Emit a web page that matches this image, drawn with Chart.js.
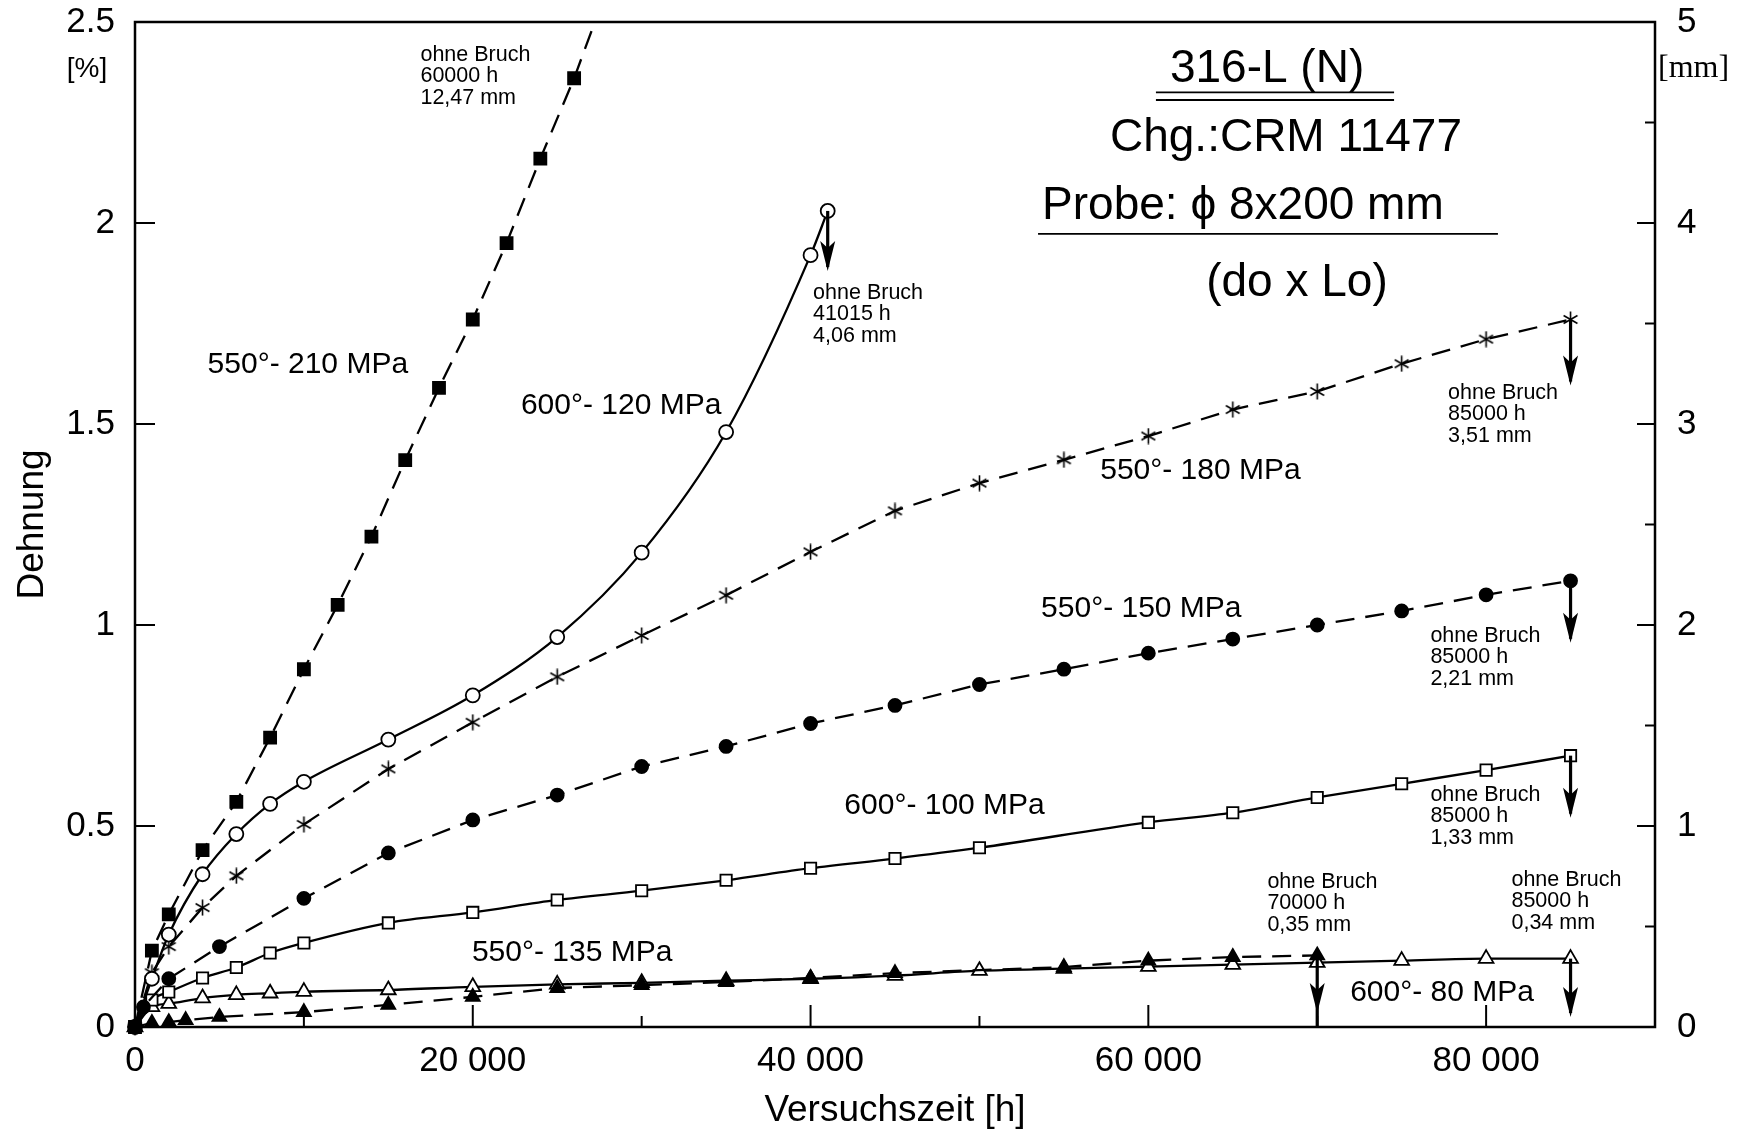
<!DOCTYPE html>
<html>
<head>
<meta charset="utf-8">
<script src="https://cdn.jsdelivr.net/npm/chart.js@4.4.1/dist/chart.umd.min.js"></script>
<style>
html,body{margin:0;padding:0;background:#fff;}
canvas{display:block;}
</style>
</head>
<body>
<canvas id="c" width="1746" height="1136"></canvas>
<script>
// ---------------- DATA ----------------
// Versuchszeit [h] / Dehnung [%]
const time210   = [0, 1000, 2000, 4000, 6000, 8000, 10000, 12000, 14000, 16000, 18000, 20000, 22000, 24000, 26000, 60000];
const strain210 = [0, 0.19, 0.28, 0.44, 0.56, 0.72, 0.89, 1.05, 1.22, 1.41, 1.59, 1.76, 1.95, 2.16, 2.36, 6.235];

const time120   = [0, 1000, 2000, 4000, 6000, 8000, 10000, 15000, 20000, 25000, 30000, 35000, 40000, 41015];
const strain120 = [0, 0.12, 0.23, 0.38, 0.48, 0.555, 0.61, 0.715, 0.825, 0.97, 1.18, 1.48, 1.92, 2.03];

const time180   = [0, 1000, 2000, 4000, 6000, 10000, 15000, 20000, 25000, 30000, 35000, 40000, 45000, 50000, 55000, 60000, 65000, 70000, 75000, 80000, 85000];
const strain180 = [0, 0.135, 0.2, 0.297, 0.376, 0.504, 0.642, 0.758, 0.871, 0.974, 1.074, 1.182, 1.284, 1.353, 1.411, 1.47, 1.536, 1.581, 1.65, 1.711, 1.76];

const time150   = [0, 500, 2000, 5000, 10000, 15000, 20000, 25000, 30000, 35000, 40000, 45000, 50000, 55000, 60000, 65000, 70000, 75000, 80000, 85000];
const strain150 = [0, 0.05, 0.12, 0.2, 0.32, 0.433, 0.515, 0.577, 0.648, 0.698, 0.755, 0.8, 0.852, 0.89, 0.93, 0.965, 1.0, 1.035, 1.075, 1.11];

const time100   = [0, 1000, 2000, 4000, 6000, 8000, 10000, 15000, 20000, 25000, 30000, 35000, 40000, 45000, 50000, 60000, 65000, 70000, 75000, 80000, 85000];
const strain100 = [0, 0.067, 0.087, 0.122, 0.148, 0.184, 0.209, 0.259, 0.285, 0.316, 0.339, 0.365, 0.395, 0.419, 0.446, 0.509, 0.533, 0.571, 0.605, 0.639, 0.675];

const time135   = [0, 1000, 2000, 3000, 5000, 10000, 15000, 20000, 25000, 30000, 35000, 40000, 45000, 55000, 60000, 65000, 70000];
const strain135 = [0, 0.01, 0.012, 0.017, 0.025, 0.037, 0.055, 0.075, 0.097, 0.104, 0.112, 0.122, 0.134, 0.149, 0.165, 0.174, 0.178];

const time80    = [0, 1000, 2000, 4000, 6000, 8000, 10000, 15000, 20000, 25000, 30000, 35000, 40000, 45000, 50000, 55000, 60000, 65000, 70000, 75000, 80000, 85000];
const strain80  = [0, 0.05, 0.058, 0.072, 0.08, 0.084, 0.088, 0.092, 0.1, 0.106, 0.11, 0.115, 0.12, 0.128, 0.14, 0.145, 0.15, 0.155, 0.16, 0.165, 0.17, 0.17];

const seriesNames = ['550°- 210 MPa', '600°- 120 MPa', '550°- 180 MPa', '550°- 150 MPa', '600°- 100 MPa', '550°- 135 MPa', '600°- 80 MPa'];

// end-of-test notes ("ohne Bruch")
const endHours = ['60000 h', '41015 h', '85000 h', '85000 h', '85000 h', '70000 h', '85000 h'];
const endMm    = ['12,47 mm', '4,06 mm', '3,51 mm', '2,21 mm', '1,33 mm', '0,35 mm', '0,34 mm'];

// axis ticks
const xTickValues = [0, 20000, 40000, 60000, 80000];
const xTickLabels = ['0', '20 000', '40 000', '60 000', '80 000'];
const yTickValues = [0, 0.5, 1, 1.5, 2, 2.5];
const yTickLabels = ['0', '0.5', '1', '1.5', '2', '2.5'];
const y2TickValues = [0, 1, 2, 3, 4, 5];
const y2TickLabels = ['0', '1', '2', '3', '4', '5'];

const titleLines = ['316-L (N)', 'Chg.:CRM 11477', 'Probe: ϕ 8x200 mm', '(do x Lo)'];

// ---------------- RENDERING ----------------
const FONT = "'Liberation Sans', Arial, Helvetica, sans-serif";
Chart.defaults.font.family = FONT;
Chart.defaults.color = '#000';

function pts(t, s) { return t.map((v, i) => ({x: v, y: s[i]})); }

function makeAsterisk(size, lw) {
  const c = document.createElement('canvas');
  c.width = size; c.height = size;
  const g = c.getContext('2d');
  g.strokeStyle = '#000'; g.lineWidth = lw; g.lineCap = 'butt';
  const r = size / 2 - 0.5, cx = size / 2, cy = size / 2;
  for (let k = 0; k < 3; k++) {
    const a = Math.PI / 2 + k * Math.PI / 3;
    g.beginPath();
    g.moveTo(cx + r * Math.cos(a), cy + r * Math.sin(a));
    g.lineTo(cx - r * Math.cos(a), cy - r * Math.sin(a));
    g.stroke();
  }
  return c;
}
const asterisk = makeAsterisk(17, 1.6);

const DASH = [19, 11];
function ds(label, t, s, opt) {
  return Object.assign({
    label, data: pts(t, s), showLine: true,
    borderColor: '#000', borderWidth: 2.3,
    pointBorderColor: '#000', pointBorderWidth: 1.8,
    tension: 0, clip: 12
  }, opt);
}

const datasets = [
  ds(seriesNames[0], time210, strain210, {borderDash: DASH, pointStyle: 'rect', pointRadius: 8.5, pointBackgroundColor: '#000',
     clip: {left: 12, right: 12, bottom: 12, top: 0}}),
  ds(seriesNames[1], time120, strain120, {pointStyle: 'circle', pointRadius: 7, pointBackgroundColor: '#fff', cubicInterpolationMode: 'monotone'}),
  ds(seriesNames[2], time180, strain180, {borderDash: DASH, pointStyle: asterisk, pointRadius: 7}),
  ds(seriesNames[3], time150, strain150, {borderDash: DASH, pointStyle: 'circle', pointRadius: 6.5, pointBackgroundColor: '#000'}),
  ds(seriesNames[4], time100, strain100, {pointStyle: 'rect', pointRadius: 8, pointBackgroundColor: '#fff', cubicInterpolationMode: 'monotone'}),
  ds(seriesNames[5], time135, strain135, {borderDash: DASH, pointStyle: 'triangle', pointRadius: 8, pointBackgroundColor: '#000'}),
  ds(seriesNames[6], time80, strain80, {pointStyle: 'triangle', pointRadius: 8.5, pointBackgroundColor: '#fff', cubicInterpolationMode: 'monotone'})
];

function lookup(vals, labels) {
  return v => { const i = vals.findIndex(w => Math.abs(w - v) < 1e-9); return i >= 0 ? labels[i] : ''; };
}

const annotPlugin = {
  id: 'annot',
  afterDatasetsDraw(chart, args, o) {
    const {ctx, chartArea: a, scales} = chart;
    const xs = scales.x, ys = scales.y, y2 = scales.y2;
    ctx.save();
    ctx.strokeStyle = '#000'; ctx.fillStyle = '#000';

    // end arrows (from last data point downwards)
    o.arrows.forEach(ar => {
      const d = chart.data.datasets[ar.series].data;
      const p = d[d.length - 1];
      const px = xs.getPixelForValue(p.x);
      const py = ys.getPixelForValue(p.y);
      const tip = ar.tipAbove != null ? a.bottom - ar.tipAbove : py + ar.len;
      const shaftEnd = ar.toAxis ? a.bottom : tip - 4;
      ctx.lineWidth = 3.2;
      ctx.beginPath(); ctx.moveTo(px, py); ctx.lineTo(px, shaftEnd); ctx.stroke();
      ctx.beginPath();
      ctx.moveTo(px, tip);
      ctx.lineTo(px - 7.5, tip - 30);
      ctx.lineTo(px, tip - 23);
      ctx.lineTo(px + 7.5, tip - 30);
      ctx.closePath(); ctx.fill();
    });

    // frame
    ctx.lineWidth = 2.5;
    ctx.strokeRect(a.left, a.top, a.right - a.left, a.bottom - a.top);

    // inward ticks
    ctx.lineWidth = 2;
    ys.ticks.forEach(t => {
      if (t.value <= 0 || t.value >= ys.max) return;
      const yy = ys.getPixelForValue(t.value);
      ctx.beginPath(); ctx.moveTo(a.left, yy); ctx.lineTo(a.left + 20, yy); ctx.stroke();
    });
    for (let mm = 0.5; mm < y2.max; mm += 0.5) {
      const yy = y2.getPixelForValue(mm);
      const len = Math.abs(mm - Math.round(mm)) < 1e-9 ? 18 : 10;
      ctx.beginPath(); ctx.moveTo(a.right - len, yy); ctx.lineTo(a.right, yy); ctx.stroke();
    }
    xs.ticks.forEach(t => {
      if (t.value <= 0 || t.value >= xs.max) return;
      const xx = xs.getPixelForValue(t.value);
      const len = t.value % 20000 === 0 ? 22 : 11;
      ctx.beginPath(); ctx.moveTo(xx, a.bottom); ctx.lineTo(xx, a.bottom - len); ctx.stroke();
    });
    ctx.restore();
  },
  afterDraw(chart, args, o) {
    const {ctx, chartArea: a, scales} = chart;
    const xs = scales.x, ys = scales.y;
    const X = v => xs.getPixelForValue(v), Y = v => ys.getPixelForValue(v);
    ctx.save();
    ctx.fillStyle = '#000'; ctx.strokeStyle = '#000';
    ctx.textBaseline = 'middle';

    // series labels
    ctx.font = '30px ' + FONT; ctx.textAlign = 'left';
    o.seriesLabels.forEach((l, i) => ctx.fillText(seriesNames[i], X(l[0]), Y(l[1])));

    // "ohne Bruch" notes
    ctx.font = '21.5px ' + FONT;
    o.notes.forEach((n, i) => {
      const x0 = X(n[0]), y0 = Y(n[1]);
      ctx.fillText('ohne Bruch', x0, y0);
      ctx.fillText(endHours[i], x0, y0 + 21.5);
      ctx.fillText(endMm[i], x0, y0 + 43);
    });

    // title block
    ctx.font = '46px ' + FONT; ctx.textAlign = 'center';
    o.title.forEach((t, i) => ctx.fillText(titleLines[i], X(t[0]), Y(t[1])));
    ctx.lineWidth = 1.8;
    o.rules.forEach(r => {
      ctx.beginPath(); ctx.moveTo(X(r[0]), Y(r[2])); ctx.lineTo(X(r[1]), Y(r[2])); ctx.stroke();
    });

    // unit labels
    ctx.font = '28px ' + FONT;
    ctx.textAlign = 'center';
    ctx.fillText('[%]', a.left - 48, a.top + 47);
    ctx.font = "32px 'Liberation Serif', 'Times New Roman', serif";
    ctx.textAlign = 'left';
    ctx.fillText('[mm]', a.right + 3, a.top + 47);
    ctx.restore();
  }
};

function fixV(w) { return s => { s.width = w; s.paddingTop = 0; s.paddingBottom = 0; }; }

new Chart(document.getElementById('c'), {
  type: 'scatter',
  data: {datasets},
  plugins: [annotPlugin],
  options: {
    responsive: false,
    animation: false,
    devicePixelRatio: 1,
    layout: {padding: {top: 22, left: 0, right: 0, bottom: 0}},
    plugins: {
      legend: {display: false},
      tooltip: {enabled: false},
      annot: {
        arrows: [
          {series: 1, len: 60},
          {series: 2, len: 66},
          {series: 3, len: 62},
          {series: 4, len: 62},
          {series: 5, tipAbove: 14, toAxis: true},
          {series: 6, tipAbove: 10}
        ],
        seriesLabels: [
          [4300, 1.647], [22850, 1.545], [57150, 1.383], [53650, 1.04],
          [42000, 0.55], [19950, 0.184], [71950, 0.085]
        ],
        notes: [
          [16900, 2.418], [40150, 1.826], [77750, 1.577], [76700, 0.973],
          [76700, 0.577], [67050, 0.361], [81500, 0.366]
        ],
        title: [[67030, 2.383], [68150, 2.211], [65600, 2.042], [68800, 1.851]],
        rules: [[60450, 74550, 2.325], [60450, 74550, 2.306], [53470, 80700, 1.973]]
      }
    },
    scales: {
      x: {
        type: 'linear', position: 'bottom', min: 0, max: 90000,
        grid: {display: false, drawTicks: false}, border: {display: false},
        ticks: {stepSize: 10000, autoSkip: false, maxRotation: 0, padding: 13,
                font: {size: 35}, callback: lookup(xTickValues, xTickLabels)},
        title: {display: true, text: 'Versuchszeit [h]', font: {size: 37}, padding: {top: 0, bottom: 3}},
        afterFit(s) { s.height = 109; s.paddingLeft = 0; s.paddingRight = 0; }
      },
      y: {
        type: 'linear', position: 'left', min: 0, max: 2.5,
        grid: {display: false, drawTicks: false}, border: {display: false},
        ticks: {stepSize: 0.5, padding: 20, font: {size: 35}, callback: lookup(yTickValues, yTickLabels)},
        title: {display: true, text: 'Dehnung', font: {size: 37}, padding: {top: 11, bottom: 0}},
        afterFit: fixV(135)
      },
      y2: {
        type: 'linear', position: 'right', min: 0, max: 5,
        grid: {display: false, drawTicks: false}, border: {display: false},
        ticks: {stepSize: 1, padding: 22, font: {size: 35}, callback: lookup(y2TickValues, y2TickLabels)},
        afterFit: fixV(91)
      }
    }
  }
});
</script>
</body>
</html>
